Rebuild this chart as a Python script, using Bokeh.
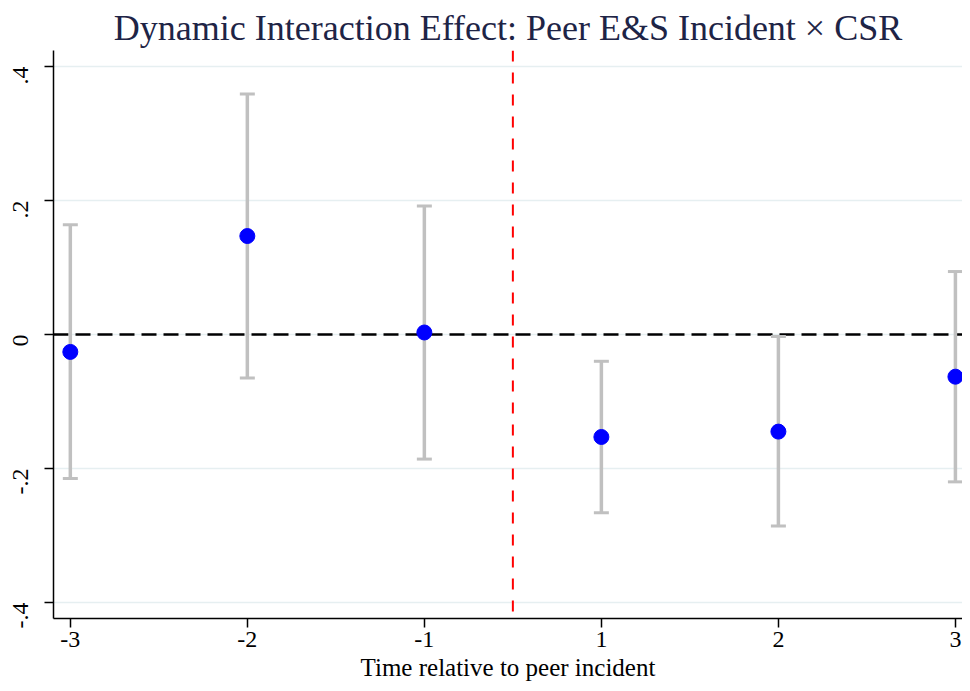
import math
from bokeh.plotting import figure
from bokeh.models import FixedTicker, Whisker, ColumnDataSource, Span, TeeHead, Range1d
from bokeh.embed import file_html
from bokeh.resources import INLINE

# ---- data ----
periods = ["-3", "-2", "-1", "1", "2", "3"]
coef = [-0.026, 0.147, 0.003, -0.153, -0.145, -0.063]
ci_low = [-0.215, -0.065, -0.186, -0.266, -0.286, -0.220]
ci_high = [0.164, 0.359, 0.192, -0.040, -0.003, 0.094]
y_ticks = [-0.4, -0.2, 0.0, 0.2, 0.4]
y_tick_labels = ["-.4", "-.2", "0", ".2", ".4"]
event_line = 3.5  # between -1 and 1

xpos = list(range(1, len(periods) + 1))
src = ColumnDataSource(dict(x=xpos, coef=coef, lower=ci_low, upper=ci_high))

SERIF = "Liberation Serif"

p = figure(width=962, height=683, output_backend="svg", toolbar_location=None,
           x_range=Range1d(0.905, 6.04), y_range=Range1d(-0.424, 0.424),
           min_border_left=53, min_border_right=0, min_border_top=50,
           min_border_bottom=63)
p.outline_line_color = None
p.background_fill_color = "white"
p.border_fill_color = "white"

# title
p.title.text = "Dynamic Interaction Effect: Peer E&S Incident \u00d7 CSR"
p.title.text_font = SERIF
p.title.text_font_size = "36px"
p.title.text_font_style = "normal"
p.title.text_color = "#1e2446"
p.title.align = "center"
p.title.standoff = 5

# grids
p.xgrid.visible = False
p.ygrid.ticker = FixedTicker(ticks=y_ticks)
p.ygrid.grid_line_color = "#e6eff1"
p.ygrid.grid_line_width = 1.5

# axes
p.xaxis.ticker = FixedTicker(ticks=xpos)
p.xaxis.major_label_overrides = {x: lab for x, lab in zip(xpos, periods)}
p.yaxis.ticker = FixedTicker(ticks=y_ticks)
p.yaxis.major_label_overrides = {t: lab for t, lab in zip(y_ticks, y_tick_labels)}
p.yaxis.major_label_orientation = math.pi / 2

for ax in (p.xaxis, p.yaxis):
    ax.axis_line_color = "black"
    ax.axis_line_width = 1.5
    ax.major_tick_line_color = "black"
    ax.major_tick_line_width = 1.5
    ax.major_tick_out = 9
    ax.major_tick_in = 0
    ax.minor_tick_line_color = None
    ax.major_label_text_font = SERIF
    ax.major_label_text_font_size = "24px"
    ax.major_label_text_color = "black"
    ax.major_label_standoff = 4

p.yaxis.major_label_standoff = 24

p.xaxis.axis_label = "Time relative to peer incident"
p.xaxis.axis_label_text_font = SERIF
p.xaxis.axis_label_text_font_size = "25px"
p.xaxis.axis_label_text_font_style = "normal"
p.xaxis.axis_label_text_color = "black"
p.xaxis.axis_label_standoff = 4

# reference lines
zero = Span(location=0, dimension="width", line_color="black", line_width=2.5,
            line_dash="15 7", level="underlay")
vline = Span(location=event_line, dimension="height", line_color="#ff0000",
             line_width=2, line_dash="11 11", level="underlay")
p.add_layout(zero)
p.add_layout(vline)

# confidence intervals
bar_col = "#c0c0c0"
wh = Whisker(base="x", upper="upper", lower="lower", source=src,
             line_color=bar_col, line_width=3.5,
             upper_head=TeeHead(size=15, line_color=bar_col, line_width=3),
             lower_head=TeeHead(size=15, line_color=bar_col, line_width=3))
p.add_layout(wh)

# point estimates
p.scatter("x", "coef", source=src, size=15, fill_color="#0000ff",
          line_color="#0000ff")

open("out.html", "w").write(file_html(p, INLINE))
